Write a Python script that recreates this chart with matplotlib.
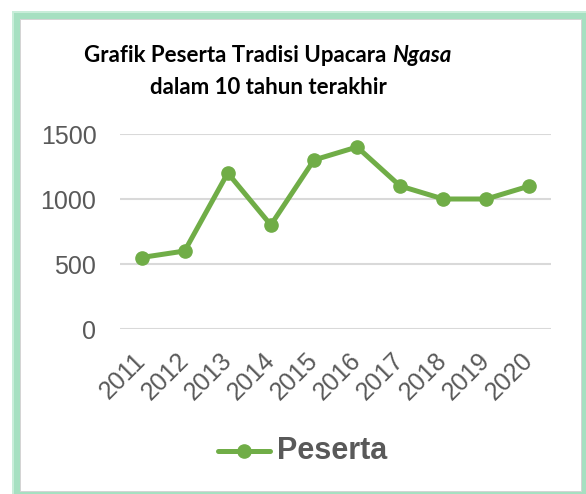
import matplotlib
matplotlib.use("Agg")
import matplotlib.pyplot as plt
from matplotlib.patches import Rectangle
from matplotlib.lines import Line2D

years = ["2011", "2012", "2013", "2014", "2015", "2016", "2017", "2018", "2019", "2020"]
peserta = [550, 600, 1200, 800, 1300, 1400, 1100, 1000, 1000, 1100]
yticks = [0, 500, 1000, 1500]
series_name = "Peserta"
title1a = "Grafik Peserta Tradisi Upacara "
title1b = "Ngasa"
title2 = "dalam 10 tahun terakhir"

W, H = 586, 494
DPI = 100
GREEN = "#70AD47"
GRAY = "#595959"

fig = plt.figure(figsize=(W / DPI, H / DPI), dpi=DPI)
fig.patch.set_facecolor("white")

def px(x, y):
    return x / W, 1 - y / H

# border: light green glow + thin gray frame
fig.add_artist(Rectangle((12 / W, 0), (W - 12) / W, 1 - 11 / H, transform=fig.transFigure,
                         facecolor="#C8EDD9", edgecolor="none", zorder=0))
fig.add_artist(Rectangle((14 / W, 0), (W - 14) / W, 1 - 13 / H, transform=fig.transFigure,
                         facecolor="#A6E0C1", edgecolor="none", zorder=0))
fig.add_artist(Rectangle((20 / W, 1 - 492 / H), (582 - 20) / W, (492 - 19) / H,
                         transform=fig.transFigure, facecolor="#D4D4D4", edgecolor="none", zorder=0))
fig.add_artist(Rectangle((21 / W, 1 - 491 / H), (581 - 21) / W, (491 - 20) / H,
                         transform=fig.transFigure, facecolor="white", edgecolor="none", zorder=0))

ax = fig.add_axes([120 / W, 1 - 329 / H, 431 / W, 195 / H])
ax.set_facecolor("none")
x = list(range(len(years)))
ax.plot(x, peserta, color=GREEN, lw=3.6, marker="o", ms=9.5, solid_capstyle="round", zorder=3)
ax.set_xlim(-0.5, len(years) - 0.5)
ax.set_ylim(0, 1500)
ax.set_yticks(yticks)
ax.set_yticklabels([str(v) for v in yticks])
ax.grid(axis="y", color="#D9D9D9", lw=1.5)
ax.set_axisbelow(True)
for s in ax.spines.values():
    s.set_visible(False)
ax.tick_params(axis="both", length=0, colors=GRAY, labelsize=18)
ax.tick_params(axis="y", pad=17)
ax.set_xticks(x)
ax.set_xticklabels(years, rotation=45, ha="right", va="center", rotation_mode="anchor")
ax.tick_params(axis="x", pad=20)
for lab in ax.get_xticklabels() + ax.get_yticklabels():
    lab.set_family("Liberation Sans")

# title with italic part
fig.canvas.draw()
r = fig.canvas.get_renderer()
tfont = dict(family="Lato", weight="bold", size=16, color="black")
ta = fig.text(0, 0, title1a, **tfont, va="center")
tb = fig.text(0, 0, title1b, style="italic", **tfont, va="center")
wa = ta.get_window_extent(r).width
wb = tb.get_window_extent(r).width
cx = 268
x0 = cx - (wa + wb) / 2
ta.set_position(px(x0, 55))
tb.set_position(px(x0 + wa, 55))
fig.text(*px(cx, 88), title2, ha="center", va="center", **tfont)

# legend
fig.add_artist(Line2D([218 / W, 270 / W], [1 - 451 / H] * 2, transform=fig.transFigure,
                      color=GREEN, lw=3.6, solid_capstyle="round"))
fig.add_artist(Line2D([244 / W], [1 - 451 / H], transform=fig.transFigure,
                      color=GREEN, marker="o", ms=9.5, lw=0))
fig.text(*px(277, 451), series_name, ha="left", va="center", family="Liberation Sans",
         weight="bold", size=22, color=GRAY)

fig.savefig("out.png", dpi=DPI)
